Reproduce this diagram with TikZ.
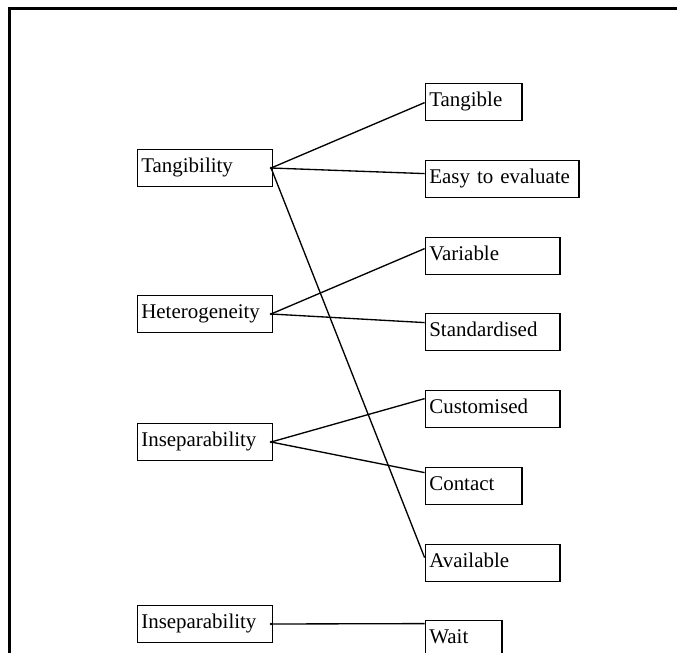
\documentclass[tikz,border=0pt]{standalone}
\usepackage{fontspec}
\setmainfont{Liberation Serif}
\begin{document}
\begin{tikzpicture}[x=0.75pt,y=-0.75pt,
  box/.style={draw, line width=1.1pt, rectangle, anchor=north west,
    inner xsep=3pt, inner ysep=0pt, minimum height=28pt, align=left,
    text height=10.9pt, text depth=3.5pt, font=\fontsize{15.7}{18}\selectfont},
  conn/.style={line width=1pt},
  dotmark/.style={fill=black},
  frameline/.style={line width=1.8pt}]
\useasboundingbox (0,0) rectangle (678,653);
% frame
\coordinate (ftl) at (9.5,8.5);
\coordinate (ftr) at (677,8.5);
\coordinate (fbl) at (9.5,653);
\draw[frameline] (fbl) -- (ftl) -- (ftr);
% left boxes
\node[box, text width=95.25pt] (tan) at (136.6,148.6) {Tangibility};
\node[box, text width=95.25pt] (het) at (136.6,294.6) {Heterogeneity};
\node[box, text width=95.25pt] (ins) at (136.6,422.6) {Inseparability};
\node[box, text width=95.25pt] (ins2) at (136.6,604.6) {Inseparability};
% right boxes
\node[box, text width=66.6pt] (tgb) at (424.6,82.6) {Tangible};
\node[box, text width=109.35pt] (easy) at (424.6,159.6) {Easy to evaluate};
\node[box, text width=95.1pt] (var) at (424.6,236.6) {Variable};
\node[box, text width=95.1pt] (std) at (424.6,312.6) {Standardised};
\node[box, text width=95.1pt] (cus) at (424.6,389.6) {Customised};
\node[box, text width=66.6pt] (con) at (424.6,466.6) {Contact};
\node[box, text width=95.1pt] (ava) at (424.6,543.6) {Available};
\node[box, text width=51.6pt] (wait) at (424.6,619.6) {Wait};
% start points
\coordinate (s1) at ([xshift=-1.5pt]tan.east);
\coordinate (s2) at ([xshift=-1.5pt]het.east);
\coordinate (s3) at ([xshift=-1.5pt]ins.east);
\coordinate (s4) at ([xshift=-1.5pt]ins2.east);
% connectors
\draw[conn] (s1) -- ([yshift=-15pt]tgb.north west);
\draw[conn] (s1) -- ([yshift=-10.5pt]easy.north west);
\draw[conn] (s1) -- ([yshift=-10.5pt]ava.north west);
\draw[conn] (s2) -- ([yshift=-9pt]var.north west);
\draw[conn] (s2) -- ([yshift=-7.5pt]std.north west);
\draw[conn] (s3) -- ([yshift=-6.75pt]cus.north west);
\draw[conn] (s3) -- ([yshift=-4.5pt]con.north west);
\draw[conn] (s4) -- ([yshift=-3pt]wait.north west);
% small dots at the start points
\foreach \s in {s1,s2,s3,s4} \fill[dotmark] (\s) circle (1pt);
\end{tikzpicture}
\end{document}
